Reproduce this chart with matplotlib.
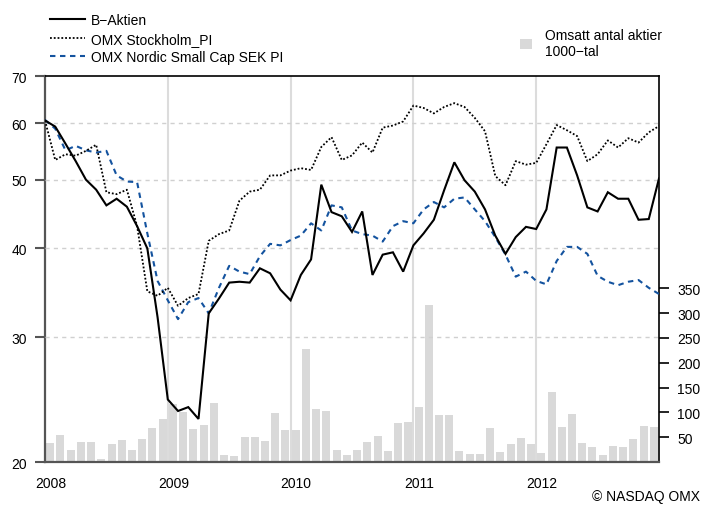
import numpy as np
import matplotlib
matplotlib.use("Agg")
import matplotlib.pyplot as plt
from matplotlib.patches import Patch
from matplotlib.ticker import FixedLocator, NullLocator

plt.rcParams['font.family'] = ['Liberation Sans', 'DejaVu Sans']

years = [2008, 2009, 2010, 2011, 2012]

b_aktien = [60.6, 59.4, 56.2, 53.1, 50.0, 48.4, 46.0, 47.0, 45.8, 43.0, 40.0,
            32.0,
            24.5, 23.6, 23.9, 23.0,
            32.4, 34.0, 35.8, 35.9, 35.8, 37.5, 36.9, 35.0, 33.8,
            36.7, 38.6, 49.2, 45.0, 44.4, 42.2, 45.1, 36.7, 39.2, 39.5, 37.1, 40.4,
            42.0, 43.9, 48.3, 52.9, 49.9, 48.1, 45.4, 41.7, 39.3, 41.5, 42.9, 42.6,
            45.4, 55.5, 55.5, 50.7, 45.7, 45.1, 48.0, 47.0, 47.0, 43.9, 44.0, 50.2]

omx_sthlm = [60.6, 53.3, 54.3, 54.05, 54.9, 56.0, 48.0, 47.7, 48.4, 43.0, 34.8,
             34.3, 35.2, 33.2, 34.05, 34.5, 41.0, 41.9, 42.4, 46.7, 48.1, 48.4,
             50.7, 50.7, 51.5, 51.9, 51.6, 55.6, 57.4, 53.3, 54.1, 56.4, 54.6,
             59.2, 59.6, 60.4, 63.6, 63.1, 62.0, 63.3, 64.1, 63.3, 61.1, 58.5,
             50.6, 49.1, 53.1, 52.5, 52.8, 56.1, 59.7, 58.7, 57.6, 53.1, 54.3,
             56.8, 55.5, 57.2, 56.4, 58.3, 59.5]

omx_nordic_sc = [60.7, 59.0, 55.0, 55.8, 55.0, 54.6, 54.9, 50.7, 49.7, 49.6, 42.0,
                 36.0, 33.8, 31.8, 33.6, 34.05, 32.4, 35.2, 37.8, 37.1, 36.8, 39.0,
                 40.6, 40.4, 41.1, 41.7, 43.4, 42.4, 46.0, 45.7, 42.4, 41.9, 41.7,
                 40.9, 43.0, 43.7, 43.4, 45.4, 46.5, 45.7, 47.0, 47.2, 45.4, 43.7,
                 41.5, 39.2, 36.5, 37.1, 36.0, 35.6, 38.4, 40.2, 40.2, 39.3, 36.6,
                 35.9, 35.5, 35.9, 36.1, 35.2, 34.5]

volume = [39, 55, 25, 41, 41, 7, 37, 45, 25, 47,
          69, 86, 116, 100, 67, 74, 118, 15, 13, 51,
          51, 43, 98, 65, 65, 227, 106, 102, 25, 15,
          25, 41, 53, 23, 78, 80, 110, 317, 94, 94,
          23, 17, 17, 69, 21, 37, 49, 37, 19, 142,
          71, 96, 39, 31, 15, 33, 31, 47, 73, 71]

left_ticks = [20, 30, 40, 50, 60, 70]
right_ticks = [50, 100, 150, 200, 250, 300, 350]

x_line = np.arange(len(b_aktien))
x_bar = np.arange(len(volume)) + 0.5

FS = 10

fig = plt.figure(figsize=(7.01, 5.06), dpi=100)
axb = fig.add_axes([45/701, 43/506, 614/701, 386/506])
axl = axb.twinx()

# bars (right axis)
axb.bar(x_bar, volume, width=0.78, color='#d9d9d9', zorder=2, linewidth=0)
axb.set_ylim(0, 778)
axb.set_xlim(0, len(volume))
axb.yaxis.set_ticks_position('right')
axb.set_yticks(right_ticks)
axb.tick_params(axis='y', direction='out', length=7, width=1.2, color='black',
                pad=6, labelsize=FS)

# year lines
for y in years[1:]:
    axb.axvline(12 * (y - years[0]), color='#dcdcdc', lw=1.5, zorder=1)

axb.set_xticks([12 * (y - years[0]) + 0.55 for y in years])
axb.set_xticklabels([str(y) for y in years])
axb.tick_params(axis='x', length=0, pad=10, labelsize=FS)

for s in ['left', 'bottom']:
    axb.spines[s].set_color('#555555')
    axb.spines[s].set_linewidth(1.6)
for s in ['top', 'right']:
    axb.spines[s].set_color('black')
    axb.spines[s].set_linewidth(1.2)
for s in axl.spines.values():
    s.set_visible(False)

# lines (left log axis)
axl.set_yscale('log')
axl.set_ylim(20, 70)
axl.yaxis.set_ticks_position('left')
axl.yaxis.set_major_locator(FixedLocator(left_ticks))
axl.yaxis.set_minor_locator(NullLocator())
axl.set_yticklabels([str(v) for v in left_ticks])
axl.tick_params(axis='y', direction='out', length=7, width=1.5, color='#555555',
                pad=6, labelsize=FS)
for v in left_ticks[1:-1]:
    axl.axhline(v, color='#d0d0d0', lw=1.0, ls=(0, (3, 3)), zorder=1)

l1, = axl.plot(x_line, b_aktien, color='black', lw=1.5, zorder=5,
               solid_joinstyle='miter')
l2, = axl.plot(x_line, omx_sthlm, color='black', lw=1.3, ls=(0, (1, 1.1)), zorder=4)
l3, = axl.plot(x_line, omx_nordic_sc, color='#14539f', lw=1.5, ls=(0, (2.6, 2.2)),
               zorder=3)
axl.set_xlim(0, len(volume))

fig.legend(handles=[l1, l2, l3],
           labels=['B\u2212Aktien', 'OMX Stockholm_PI', 'OMX Nordic Small Cap SEK PI'],
           loc='upper left', bbox_to_anchor=(50/701, 1 - 14/506), frameon=False,
           fontsize=FS, handlelength=2.5, handletextpad=0.45, labelspacing=0.33,
           borderpad=0, borderaxespad=0)

fig.legend(handles=[Patch(facecolor='#d9d9d9', edgecolor='none')],
           labels=['Omsatt antal aktier\n1000\u2212tal'],
           loc='upper left', bbox_to_anchor=(520/701, 1 - 29/506), frameon=False,
           fontsize=FS, handlelength=0.85, handleheight=0.75, handletextpad=0.95,
           borderpad=0, borderaxespad=0)

fig.text(0.999, 1 - 497/506, '\u00a9 NASDAQ OMX', ha='right', va='center',
         fontsize=FS)

fig.savefig('out.png', dpi=100)
